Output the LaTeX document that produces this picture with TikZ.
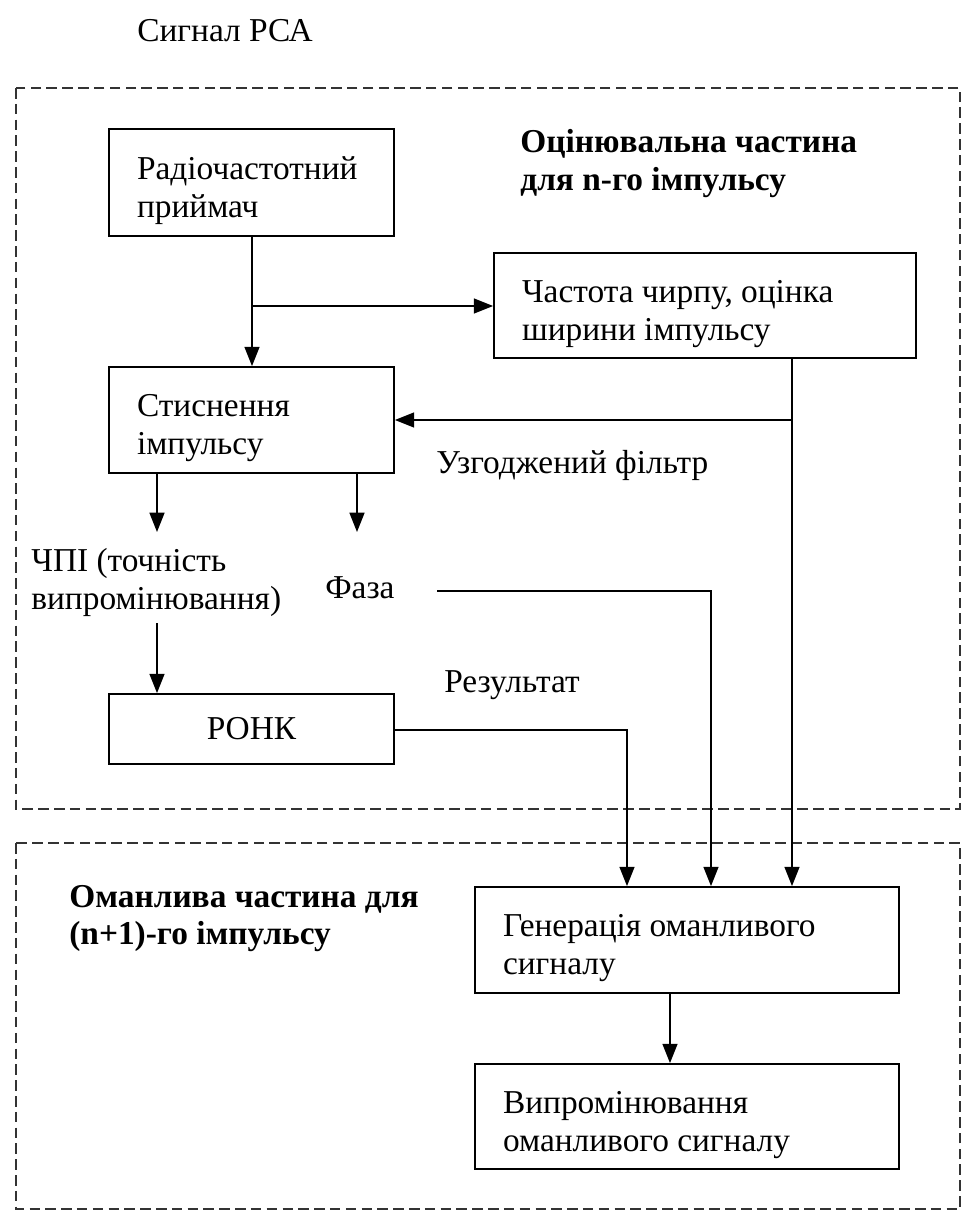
\documentclass[tikz,border=0pt]{standalone}
\usepackage{fontspec}
\setmainfont{Liberation Serif}
\usetikzlibrary{arrows.meta,calc}
\begin{document}
\begin{tikzpicture}[x=0.02cm,y=-0.02cm,
  every node/.style={font=\fontsize{19}{21.5}\selectfont},
  box/.style={draw,line width=1pt,inner xsep=0.56cm,inner ysep=0pt,align=flush left},
  tbox/.style={box,execute at begin node={\rule{0pt}{0.77cm}}},
  lbl/.style={anchor=west,inner sep=0pt,align=flush left},
  blbl/.style={lbl,font=\fontsize{19}{21.5}\selectfont\bfseries},
  zone/.style={draw=black!80,line width=0.9pt,dash pattern=on 6pt off 3pt},
  arr/.style={line width=1pt,-{Triangle[length=11pt,width=8.5pt]}},
  ln/.style={line width=1pt}]
\useasboundingbox (0,0) rectangle (977,1212);
\fill[white] (0,0) rectangle (977,1212);
% zones
\draw[zone] (16,88) rectangle (960,809);
\draw[zone] (16,843) rectangle (960,1209);
% title
\node[lbl] (title) at (137,31) {Сигнал РСА};
% boxes
\node[tbox,text width=4.58cm,minimum height=2.14cm] (radio) at (251.5,182.5) {Радіочастотний\\приймач};
\node[tbox,text width=7.32cm,minimum height=2.1cm] (chirp) at (705,305.5) {Частота чирпу, оцінка\\ширини імпульсу};
\node[tbox,text width=4.58cm,minimum height=2.12cm] (comp) at (251.5,420) {Стиснення\\імпульсу};
\node[box,text width=4.58cm,minimum height=1.4cm,align=center] (ronk) at (251.5,729) {РОНК};
\node[tbox,text width=7.36cm,minimum height=2.12cm] (gen) at (687,940) {Генерація оманливого\\сигналу};
\node[tbox,text width=7.36cm,minimum height=2.1cm] (emit) at (687,1116.5) {Випромінювання\\оманливого сигналу};
% labels
\node[blbl] (estl) at (520,163.5) {Оцінювальна частина\\для n-го імпульсу};
\node[blbl] (decl) at (69,918.5) {Оманлива частина для\\(n+1)-го імпульсу};
\node[lbl] (mf) at (436,465) {Узгоджений фільтр};
\node[lbl] (cpi) at (31,582.5) {ЧПІ (точність\\випромінювання)};
\node[lbl] (phase) at (325,588) {Фаза};
\node[anchor=west,inner sep=0pt] (res) at (444,685) {Результат};
% connectors
\coordinate (br) at (252,306);
\draw[arr] (radio.south -| br) -- (br |- comp.north);
\draw[arr] (br) -- (br -| chirp.west);
\coordinate (fb) at (792,420);
\draw[ln] (fb |- chirp.south) -- (fb);
\draw[arr] (fb) -- (fb -| comp.east);
\draw[arr] (fb) -- (fb |- gen.north);
\coordinate (c1) at (157,532);
\coordinate (c2) at (357,532);
\draw[arr] (c1 |- comp.south) -- (c1);
\draw[arr] (c2 |- comp.south) -- (c2);
\coordinate (c3) at (157,623);
\draw[arr] (c3) -- (c3 |- ronk.north);
\coordinate (p1) at (437,591);
\coordinate (p2) at (711,591);
\draw[arr] (p1) -- (p2) -- (p2 |- gen.north);
\coordinate (r2) at (627,730);
\draw[arr] (r2 -| ronk.east) -- (r2) -- (r2 |- gen.north);
\coordinate (g1) at (670,0);
\draw[arr] (g1 |- gen.south) -- (g1 |- emit.north);
\end{tikzpicture}
\end{document}
